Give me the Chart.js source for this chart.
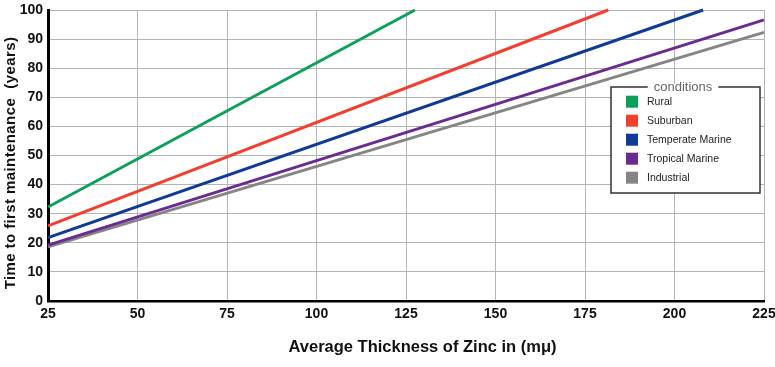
<!DOCTYPE html>
<html>
<head>
<meta charset="utf-8">
<script src="https://cdn.jsdelivr.net/npm/chart.js@4/dist/chart.umd.min.js"></script>
<style>
html,body{margin:0;padding:0;background:#fff;}
#wrap{position:relative;width:775px;height:367px;}
</style>
</head>
<body>
<div id="wrap"><canvas id="c" width="775" height="367"></canvas></div>
<script>
// Data
const seriesNames = ['Rural', 'Suburban', 'Temperate Marine', 'Tropical Marine', 'Industrial'];
const ruralThickness = [25, 127.5];
const ruralYears = [32.3, 100];
const suburbanThickness = [25, 181.5];
const suburbanYears = [25.8, 100];
const temperateThickness = [25, 208];
const temperateYears = [21.8, 100];
const tropicalThickness = [25, 225];
const tropicalYears = [19.2, 96.6];
const industrialThickness = [25, 225];
const industrialYears = [18.6, 92.3];
const xTicks = [25, 50, 75, 100, 125, 150, 175, 200, 225];
const yTicks = [0, 10, 20, 30, 40, 50, 60, 70, 80, 90, 100];
const legendTitle = 'conditions';
const xTitle = 'Average Thickness of Zinc in (m\u03bc)';
const yTitle = 'Time to first maintenance  (years)';

const colors = ['#0ca05a', '#f2402f', '#0f3a97', '#6b2b92', '#858585'];
const xs = [ruralThickness, suburbanThickness, temperateThickness, tropicalThickness, industrialThickness];
const ys = [ruralYears, suburbanYears, temperateYears, tropicalYears, industrialYears];

const datasets = seriesNames.map((n, i) => ({
  label: n,
  data: xs[i].map((x, j) => ({x: x, y: ys[i][j]})),
  borderColor: colors[i],
  backgroundColor: colors[i],
  borderWidth: 3,
  pointRadius: 0,
  tension: 0,
  clip: false
}));

const FONT = "'Liberation Sans', Arial, sans-serif";

const customLegend = {
  id: 'customLegend',
  afterDraw(chart) {
    const ctx = chart.ctx;
    const L = 611, T = 87, R = 760, B = 193;
    ctx.save();
    ctx.fillStyle = '#fff';
    ctx.fillRect(L, T, R - L, B - T);
    ctx.strokeStyle = '#333';
    ctx.lineWidth = 1.5;
    ctx.strokeRect(L, T, R - L, B - T);
    ctx.font = "13px " + FONT;
    const tw = ctx.measureText(legendTitle).width;
    const cx = 683;
    ctx.fillStyle = '#fff';
    ctx.fillRect(cx - tw / 2 - 6, T - 3, tw + 12, 6);
    ctx.fillStyle = '#666';
    ctx.textAlign = 'center';
    ctx.textBaseline = 'middle';
    ctx.fillText(legendTitle, cx, T);
    ctx.textAlign = 'left';
    ctx.font = "10.5px " + FONT;
    chart.data.datasets.forEach((ds, i) => {
      const y = 101.7 + i * 19;
      ctx.fillStyle = ds.borderColor;
      ctx.fillRect(626, y - 6, 12, 12);
      ctx.fillStyle = '#222';
      ctx.fillText(ds.label, 647, y + 0.5);
    });
    ctx.restore();
  }
};

const titlesPlugin = {
  id: 'titlesPlugin',
  afterDraw(chart) {
    const ctx = chart.ctx;
    ctx.save();
    ctx.fillStyle = '#111';
    ctx.textAlign = 'center';
    ctx.textBaseline = 'middle';
    ctx.translate(11, 163);
    ctx.rotate(-Math.PI / 2);
    ctx.font = "bold 15px " + FONT;
    ctx.letterSpacing = '0.4px';
    ctx.fillText(yTitle, 0, 0);
    ctx.restore();
    ctx.save();
    ctx.fillStyle = '#111';
    ctx.textAlign = 'center';
    ctx.textBaseline = 'middle';
    ctx.font = "bold 16.5px " + FONT;
    ctx.fillText(xTitle, 422.5, 347);
    ctx.restore();
  }
};

new Chart(document.getElementById('c'), {
  type: 'line',
  data: {datasets: datasets},
  options: {
    responsive: false,
    animation: false,
    layout: {padding: {left: 0, right: 0, top: 0, bottom: 0}},
    plugins: {legend: {display: false}, tooltip: {enabled: false}},
    scales: {
      x: {
        type: 'linear',
        min: 25, max: 225,
        afterBuildTicks(scale) { scale.ticks = xTicks.map(v => ({value: v})); },
        afterFit(scale) { scale.height = 66; scale.paddingRight = 11; scale.paddingLeft = 0; },
        grid: {color: '#b4b4b4', lineWidth: 1, drawTicks: false},
        border: {color: '#000', width: 2.5},
        ticks: {color: '#111', font: {family: FONT, size: 14, weight: 'bold'}, padding: 5, maxRotation: 0}
      },
      y: {
        min: 0, max: 100,
        afterBuildTicks(scale) { scale.ticks = yTicks.map(v => ({value: v})); },
        afterFit(scale) { scale.width = 48; scale.paddingTop = 10; scale.paddingBottom = 0; },
        grid: {color: '#b4b4b4', lineWidth: 1, drawTicks: false},
        border: {color: '#000', width: 3},
        ticks: {color: '#111', font: {family: FONT, size: 14, weight: 'bold'}, padding: 5}
      }
    }
  },
  plugins: [titlesPlugin, customLegend]
});
</script>
</body>
</html>
